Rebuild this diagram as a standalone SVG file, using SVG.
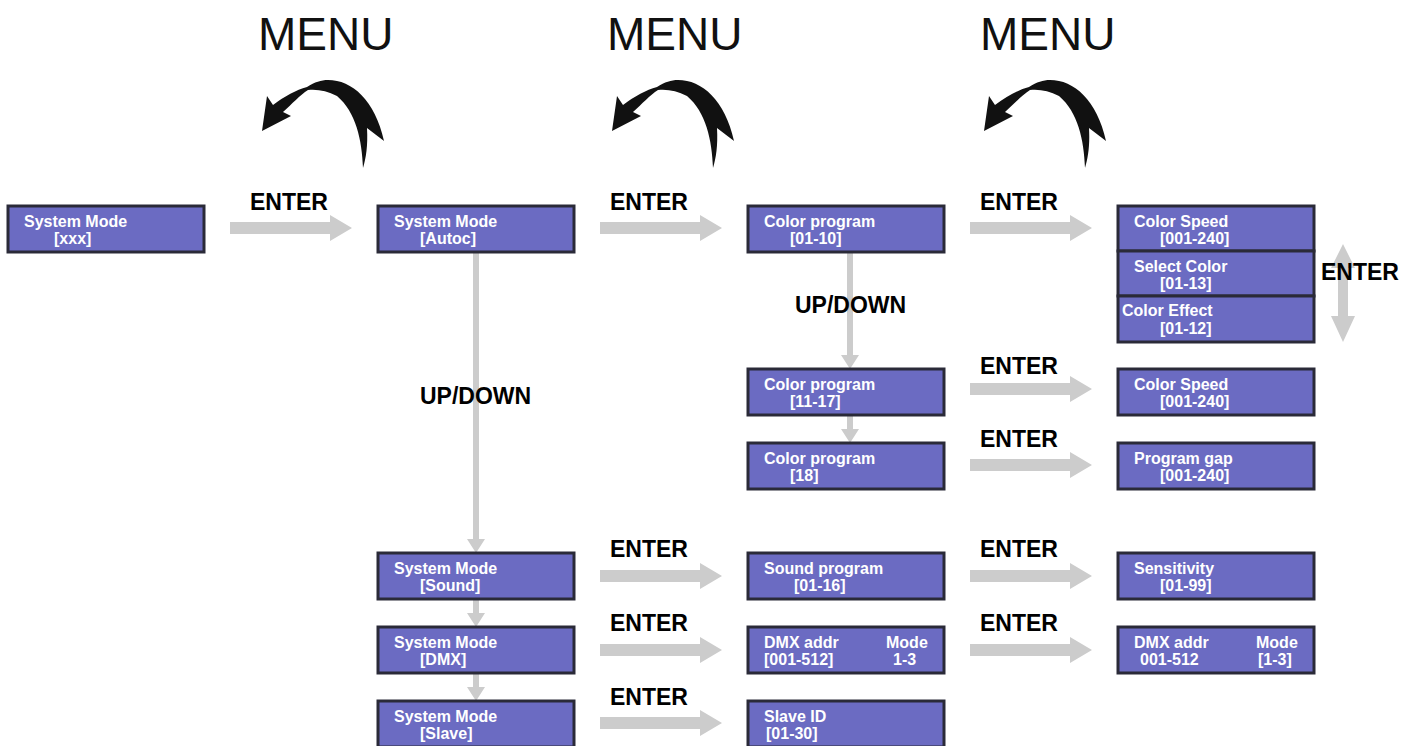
<svg xmlns="http://www.w3.org/2000/svg" width="1404" height="746" viewBox="0 0 1404 746">
<defs>
<style>
.box{fill:#6b6bc2;stroke:#2a2a38;stroke-width:3}
.bt{font-family:"Liberation Sans",Arial,sans-serif;font-weight:bold;font-size:16px;fill:#ffffff}
.lb{font-family:"Liberation Sans",Arial,sans-serif;font-weight:bold;font-size:23px;fill:#000000}
.menu{font-family:"Liberation Sans",Arial,sans-serif;font-size:46px;fill:#111111}
.ar{fill:#cccccc}
.curve{fill:#111111}
</style>
<path id="harrow" d="M0,-6 L100,-6 L100,-13 L122,0 L100,13 L100,6 L0,6 Z"/>
<path id="menuarrow" d="M262,131 L267,96 L273,105 C285,96 296,90 307,87 C315,82 321,80 328,80 C352,80 375,100 384,141 L367,128 C368,146 366,158 363,168 C362,140 356,112 337,96 C327,91 318,89 308,90 C300,95 292,104 283,112 L291,116 Z"/>
</defs>
<rect width="1404" height="746" fill="#ffffff"/>
<g id="connectors">
<use href="#menuarrow" class="curve"/>
<use href="#menuarrow" class="curve" transform="translate(350,0)"/>
<use href="#menuarrow" class="curve" transform="translate(722,0)"/>
<use href="#harrow" class="ar" transform="translate(230,228)"/>
<use href="#harrow" class="ar" transform="translate(600,228)"/>
<use href="#harrow" class="ar" transform="translate(970,228)"/>
<use href="#harrow" class="ar" transform="translate(970,389)"/>
<use href="#harrow" class="ar" transform="translate(970,465)"/>
<use href="#harrow" class="ar" transform="translate(600,576)"/>
<use href="#harrow" class="ar" transform="translate(970,576)"/>
<use href="#harrow" class="ar" transform="translate(600,650)"/>
<use href="#harrow" class="ar" transform="translate(970,650)"/>
<use href="#harrow" class="ar" transform="translate(600,723)"/>
<path class="ar" d="M473,253 L479,253 L479,539 L485,539 L476,553 L467,539 L473,539 Z"/>
<path class="ar" d="M473,600 L479,600 L479,613 L485,613 L476,627 L467,613 L473,613 Z"/>
<path class="ar" d="M473,673 L479,673 L479,687 L485,687 L476,701 L467,687 L473,687 Z"/>
<path class="ar" d="M847,253 L853,253 L853,355 L859,355 L850,369 L841,355 L847,355 Z"/>
<path class="ar" d="M847,415 L853,415 L853,429 L859,429 L850,443 L841,429 L847,429 Z"/>
<path class="ar" d="M1343,244 L1355,268 L1348,268 L1348,316 L1355,316 L1343,342 L1331,316 L1338,316 L1338,268 L1331,268 Z"/>
</g>
<g id="labels">
<text class="menu" x="258" y="50">MENU</text>
<text class="menu" x="607" y="50">MENU</text>
<text class="menu" x="980" y="50">MENU</text>
<text class="lb" x="250" y="210">ENTER</text>
<text class="lb" x="610" y="210">ENTER</text>
<text class="lb" x="980" y="210">ENTER</text>
<text class="lb" x="980" y="374">ENTER</text>
<text class="lb" x="980" y="447">ENTER</text>
<text class="lb" x="610" y="557">ENTER</text>
<text class="lb" x="980" y="557">ENTER</text>
<text class="lb" x="610" y="631">ENTER</text>
<text class="lb" x="980" y="631">ENTER</text>
<text class="lb" x="610" y="705">ENTER</text>
<text class="lb" x="1321" y="280">ENTER</text>
<text class="lb" x="420" y="404">UP/DOWN</text>
<text class="lb" x="795" y="313">UP/DOWN</text>
</g>
<g id="n-sys-xxx"><rect class="box" x="8" y="206" width="196" height="46"/><text class="bt" x="24" y="227">System Mode</text><text class="bt" x="54" y="244">[xxx]</text></g>
<g id="n-sys-autoc"><rect class="box" x="378" y="206" width="196" height="46"/><text class="bt" x="394" y="227">System Mode</text><text class="bt" x="420" y="244">[Autoc]</text></g>
<g id="n-cp-0110"><rect class="box" x="748" y="206" width="196" height="46"/><text class="bt" x="764" y="227">Color program</text><text class="bt" x="790" y="244">[01-10]</text></g>
<g id="n-stack"><rect class="box" x="1118" y="206" width="196" height="45"/><text class="bt" x="1134" y="227">Color Speed</text><text class="bt" x="1160" y="244">[001-240]</text>
<rect class="box" x="1118" y="251" width="196" height="45"/><text class="bt" x="1134" y="272">Select Color</text><text class="bt" x="1160" y="289">[01-13]</text>
<rect class="box" x="1118" y="296" width="196" height="46"/><text class="bt" x="1122" y="316">Color Effect</text><text class="bt" x="1160" y="334">[01-12]</text></g>
<g id="n-cp-1117"><rect class="box" x="748" y="369" width="196" height="46"/><text class="bt" x="764" y="390">Color program</text><text class="bt" x="790" y="407">[11-17]</text></g>
<g id="n-cs-2"><rect class="box" x="1118" y="369" width="196" height="46"/><text class="bt" x="1134" y="390">Color Speed</text><text class="bt" x="1160" y="407">[001-240]</text></g>
<g id="n-cp-18"><rect class="box" x="748" y="443" width="196" height="46"/><text class="bt" x="764" y="464">Color program</text><text class="bt" x="790" y="481">[18]</text></g>
<g id="n-pg"><rect class="box" x="1118" y="443" width="196" height="46"/><text class="bt" x="1134" y="464">Program gap</text><text class="bt" x="1160" y="481">[001-240]</text></g>
<g id="n-sys-sound"><rect class="box" x="378" y="553" width="196" height="46"/><text class="bt" x="394" y="574">System Mode</text><text class="bt" x="420" y="591">[Sound]</text></g>
<g id="n-sp"><rect class="box" x="748" y="553" width="196" height="46"/><text class="bt" x="764" y="574">Sound program</text><text class="bt" x="794" y="591">[01-16]</text></g>
<g id="n-sens"><rect class="box" x="1118" y="553" width="196" height="46"/><text class="bt" x="1134" y="574">Sensitivity</text><text class="bt" x="1160" y="591">[01-99]</text></g>
<g id="n-sys-dmx"><rect class="box" x="378" y="627" width="196" height="46"/><text class="bt" x="394" y="648">System Mode</text><text class="bt" x="420" y="665">[DMX]</text></g>
<g id="n-dmx1"><rect class="box" x="748" y="627" width="196" height="46"/><text class="bt" x="764" y="648">DMX addr</text><text class="bt" x="886" y="648">Mode</text><text class="bt" x="764" y="665">[001-512]</text><text class="bt" x="893" y="665">1-3</text></g>
<g id="n-dmx2"><rect class="box" x="1118" y="627" width="196" height="46"/><text class="bt" x="1134" y="648">DMX addr</text><text class="bt" x="1256" y="648">Mode</text><text class="bt" x="1140" y="665">001-512</text><text class="bt" x="1258" y="665">[1-3]</text></g>
<g id="n-sys-slave"><rect class="box" x="378" y="701" width="196" height="46"/><text class="bt" x="394" y="722">System Mode</text><text class="bt" x="420" y="739">[Slave]</text></g>
<g id="n-slave"><rect class="box" x="748" y="701" width="196" height="46"/><text class="bt" x="764" y="722">Slave ID</text><text class="bt" x="766" y="739">[01-30]</text></g>
</svg>
